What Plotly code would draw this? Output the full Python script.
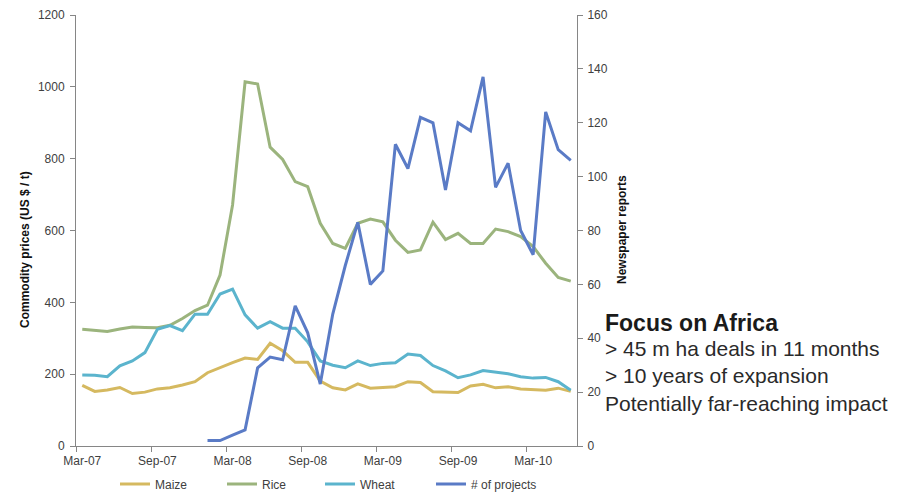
import plotly.graph_objects as go

months = ["Mar-07", "Apr-07", "May-07", "Jun-07", "Jul-07", "Aug-07", "Sep-07", "Oct-07",
          "Nov-07", "Dec-07", "Jan-08", "Feb-08", "Mar-08", "Apr-08", "May-08", "Jun-08",
          "Jul-08", "Aug-08", "Sep-08", "Oct-08", "Nov-08", "Dec-08", "Jan-09", "Feb-09",
          "Mar-09", "Apr-09", "May-09", "Jun-09", "Jul-09", "Aug-09", "Sep-09", "Oct-09",
          "Nov-09", "Dec-09", "Jan-10", "Feb-10", "Mar-10", "Apr-10", "May-10", "Jun-10"]

maize = [169, 152, 156, 163, 146, 150, 159, 162, 170, 179, 204, 219, 232, 245, 241, 286,
         265, 233, 233, 181, 162, 156, 173, 161, 162, 165, 179, 177, 151, 151, 149, 167,
         172, 162, 165, 159, 156, 155, 161, 152]
rice = [325, 321, 319, 326, 331, 330, 329, 336, 355, 377, 392, 476, 671, 1014, 1008, 832,
        798, 736, 722, 620, 564, 550, 620, 632, 624, 573, 539, 546, 623, 575, 592, 564,
        564, 604, 597, 583, 555, 509, 469, 459]
wheat = [198, 197, 193, 223, 237, 260, 325, 335, 321, 367, 367, 423, 437, 365, 328, 346,
         328, 328, 290, 237, 225, 218, 237, 224, 230, 232, 256, 252, 224, 209, 190, 198,
         210, 205, 201, 193, 189, 191, 179, 155]
projects = [None, None, None, None, None, None, None, None, None, None,
            2, 2, 4, 6, 29, 33, 32, 52, 42, 23, 49, 67, 83, 60, 65, 112, 103, 122, 120, 95,
            120, 117, 137, 96, 105, 80, 71, 124, 110, 106]

left_title = "Commodity prices (US $ / t)"
right_title = "Newspaper reports"
box_title = "Focus on Africa"
box_lines = ["> 45 m ha deals in 11 months", "> 10 years of expansion",
             "Potentially far-reaching impact"]

FONT = "Liberation Sans"
AX = "#868686"
TXT = "#404040"

# the page body adds an 8px offset; margins compensate so the plot area
# lands at x 76..577, y 15..446 in the window
OFF = 8

fig = go.Figure()
series = [
    ("Maize", maize, "#D5B960", "y", 62),
    ("Rice", rice, "#9BB47D", "y", 53),
    ("Wheat", wheat, "#5BB4CD", "y", 66),
    ("# of projects", projects, "#5A7BC6", "y2", 80),
]
for name, vals, col, yax, lw in series:
    fig.add_trace(go.Scatter(x=months, y=vals, name=name, mode="lines", yaxis=yax,
                             line=dict(color=col, width=3), legendwidth=lw,
                             connectgaps=False))

fig.update_layout(
    width=909, height=492,
    margin=dict(l=76 - OFF, r=332 + OFF, t=15 - OFF, b=46 + OFF, autoexpand=False),
    paper_bgcolor="white", plot_bgcolor="white",
    font=dict(family=FONT, size=12, color=TXT),
    showlegend=True,
    legend=dict(orientation="h", x=(115 - 76) / 501, xanchor="left",
                y=(446 - 484) / 431, yanchor="middle",
                font=dict(family=FONT, size=12, color=TXT),
                bgcolor="rgba(0,0,0,0)"),
    xaxis=dict(type="category", tickmode="linear", tick0=0, dtick=6, tickangle=0,
               tickson="boundaries", ticks="outside", ticklen=5, tickcolor=AX,
               showline=True, linecolor=AX, linewidth=1, showgrid=False,
               zeroline=False, range=[-0.5, 39.5], automargin=False,
               ticklabelstandoff=4,
               tickfont=dict(family=FONT, size=12, color=TXT)),
    yaxis=dict(range=[0, 1200], dtick=200, ticks="outside", ticklen=5, tickcolor=AX,
               showline=True, linecolor=AX, linewidth=1, showgrid=False,
               zeroline=False, automargin=False, ticklabelstandoff=3,
               tickfont=dict(family=FONT, size=12, color=TXT)),
    yaxis2=dict(range=[0, 160], dtick=20, overlaying="y", side="right",
                ticks="outside", ticklen=5, tickcolor=AX,
                showline=True, linecolor=AX, linewidth=1, showgrid=False,
                zeroline=False, automargin=False, ticklabelstandoff=2,
                tickfont=dict(family=FONT, size=12, color=TXT)),
)

fig.add_annotation(text="<b>" + left_title + "</b>", textangle=-90,
                   xref="paper", yref="paper", x=0, y=(446 - 250) / 431,
                   xshift=-51, xanchor="center", yanchor="middle", showarrow=False,
                   font=dict(family=FONT, size=12, color="#111111"))
fig.add_annotation(text="<b>" + right_title + "</b>", textangle=-90,
                   xref="paper", yref="paper", x=1, y=(446 - 230) / 431,
                   xshift=45, xanchor="center", yanchor="middle", showarrow=False,
                   font=dict(family=FONT, size=12, color="#111111"))
fig.add_annotation(text="<b>" + box_title + "</b>",
                   xref="paper", yref="paper", x=1, y=(446 - 323) / 431,
                   xshift=26, xanchor="left", yanchor="middle", showarrow=False,
                   font=dict(family=FONT, size=23, color="#1a1a1a"))
fig.add_annotation(text="<br>".join(box_lines), align="left",
                   xref="paper", yref="paper", x=1, y=(446 - 376) / 431,
                   xshift=26, xanchor="left", yanchor="middle", showarrow=False,
                   font=dict(family=FONT, size=21, color="#2a2a2a"))

fig.write_html("out.html")
